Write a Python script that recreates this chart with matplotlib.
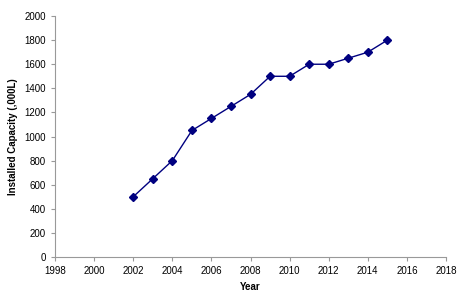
import matplotlib
matplotlib.use("Agg")
import matplotlib.pyplot as plt

years = [2002, 2003, 2004, 2005, 2006, 2007, 2008, 2009, 2010, 2011, 2012, 2013, 2014, 2015]
capacity = [500, 650, 800, 1050, 1150, 1250, 1350, 1500, 1500, 1600, 1600, 1650, 1700, 1800]

plt.rcParams["font.family"] = ["Liberation Sans", "DejaVu Sans"]

fig = plt.figure(figsize=(4.67, 3.03), dpi=100)
ax = fig.add_axes([0.118, 0.152, 0.837, 0.795])

ax.plot(years, capacity, color="#000080", linewidth=1.0, marker="D", markersize=4.5)

ax.set_xlim(1998, 2018)
ax.set_ylim(0, 2000)
ax.set_xticks(range(1998, 2019, 2))
ax.set_yticks(range(0, 2001, 200))

for side in ("top", "right"):
    ax.spines[side].set_visible(False)
for side in ("left", "bottom"):
    ax.spines[side].set_color("#999999")
    ax.spines[side].set_linewidth(0.8)
ax.tick_params(colors="#999999", labelcolor="black", labelsize=7, length=3, width=0.8)

ax.set_xlabel("Year", fontsize=7, fontweight="bold", labelpad=4)
ax.set_ylabel("Installed Capacity (,000L)", fontsize=7, fontweight="bold", labelpad=5)

fig.savefig("out.png", dpi=100, facecolor="white")
